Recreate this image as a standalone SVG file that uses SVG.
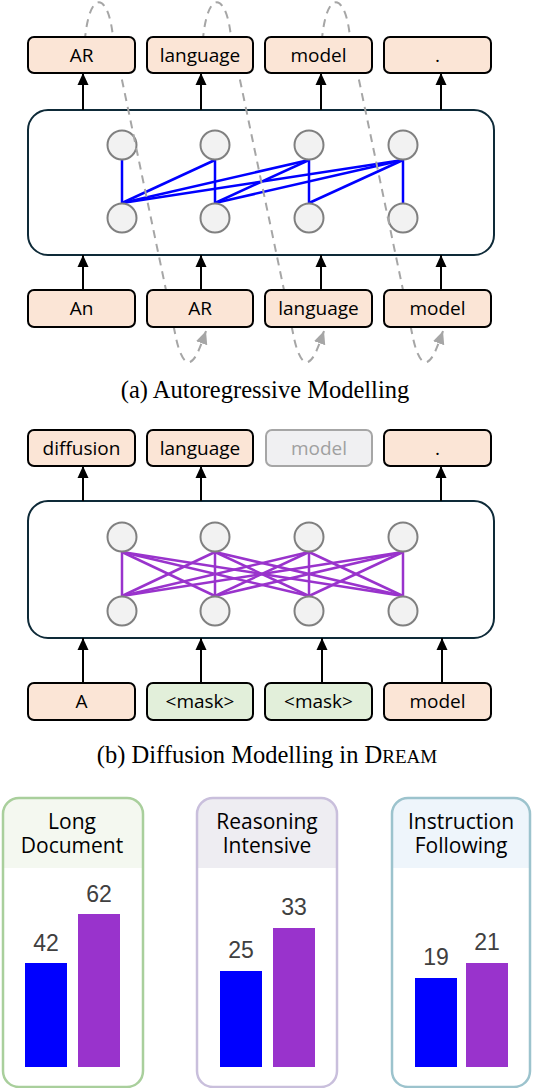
<svg xmlns="http://www.w3.org/2000/svg" width="534" height="1088" viewBox="0 0 534 1088">
<style>
.tok{stroke:#000;stroke-width:2;fill:#fbe5d6}
.msk{stroke:#000;stroke-width:2;fill:#e2efda}
.gry{stroke:#a6a6a6;stroke-width:2;fill:#f0f0f2}
.tt{font-family:"Open Sans",sans-serif;font-size:19px;fill:#000;text-anchor:middle}
.main{fill:#fff;stroke:#0e2a38;stroke-width:2}
.nd{fill:#f2f2f2;stroke:#808080;stroke-width:2}
.arr{stroke:#000;stroke-width:2;marker-end:url(#ah)}
.dash{fill:none;stroke:#a6a6a6;stroke-width:2;stroke-dasharray:8 6;marker-end:url(#gh)}
.be{stroke:#0000ff;stroke-width:2.5}
.pe{stroke:#9933cc;stroke-width:2.5}
.cap{font-family:"Liberation Serif",serif;font-size:24.5px;fill:#000;text-anchor:middle}
.ht{font-family:"Open Sans",sans-serif;font-size:21px;fill:#000;text-anchor:middle}
.nl{font-family:"Liberation Sans",sans-serif;font-size:23px;fill:#404040;text-anchor:middle}
.blue{fill:#0000ff}
.purp{fill:#9933cc}
</style>
<defs>
<marker id="ah" markerUnits="userSpaceOnUse" markerWidth="12" markerHeight="12" refX="12" refY="5.5" orient="auto" viewBox="0 0 12 11">
<path d="M0,0 L12,5.5 L0,11 z" fill="#000"/>
</marker>
<marker id="gh" markerUnits="userSpaceOnUse" markerWidth="13" markerHeight="12" refX="12" refY="5.5" orient="auto" viewBox="0 0 12 11">
<path d="M0,0 L12,5.5 L0,11 z" fill="#a6a6a6"/>
</marker>
<clipPath id="c1"><rect x="3" y="798" width="140" height="289" rx="16"/></clipPath>
<clipPath id="c2"><rect x="197" y="798" width="140" height="289" rx="16"/></clipPath>
<clipPath id="c3"><rect x="392" y="798" width="138" height="289" rx="16"/></clipPath>
</defs>

<!-- (a) Autoregressive -->
<g id="a-model">
<rect class="main" x="28" y="110" width="466" height="145" rx="20"/>
</g>
<g id="a-connectors">
<line class="arr" x1="83" y1="110" x2="83" y2="73"/>
<line class="arr" x1="201" y1="110" x2="201" y2="73"/>
<line class="arr" x1="321" y1="110" x2="321" y2="73"/>
<line class="arr" x1="441" y1="110" x2="441" y2="73"/>
<line class="arr" x1="83" y1="290" x2="83" y2="255"/>
<line class="arr" x1="201" y1="290" x2="201" y2="255"/>
<line class="arr" x1="321" y1="290" x2="321" y2="255"/>
<line class="arr" x1="441" y1="290" x2="441" y2="255"/>
<line class="be" x1="122" y1="160" x2="122" y2="203"/>
<line class="be" x1="215" y1="160" x2="122" y2="203"/>
<line class="be" x1="215" y1="160" x2="215" y2="203"/>
<line class="be" x1="309" y1="160" x2="122" y2="203"/>
<line class="be" x1="309" y1="160" x2="215" y2="203"/>
<line class="be" x1="309" y1="160" x2="309" y2="203"/>
<line class="be" x1="403" y1="160" x2="122" y2="203"/>
<line class="be" x1="403" y1="160" x2="215" y2="203"/>
<line class="be" x1="403" y1="160" x2="309" y2="203"/>
<line class="be" x1="403" y1="160" x2="403" y2="203"/>
</g>
<g id="a-nodes">
<circle class="nd" cx="122" cy="145" r="14.5"/>
<circle class="nd" cx="215" cy="145" r="14.5"/>
<circle class="nd" cx="309" cy="145" r="14.5"/>
<circle class="nd" cx="403" cy="145" r="14.5"/>
<circle class="nd" cx="122" cy="218" r="14.5"/>
<circle class="nd" cx="215" cy="218" r="14.5"/>
<circle class="nd" cx="309" cy="218" r="14.5"/>
<circle class="nd" cx="403" cy="218" r="14.5"/>
</g>
<g id="a-feedback">
<path class="dash" d="M84 55 C86 -12 108 -12 113 37 L175 333 C179 355 185 364 190 362 C196 360 201 345 206 331"/>
<path class="dash" transform="translate(118,0)" d="M84 55 C86 -12 108 -12 113 37 L175 333 C179 355 185 364 190 362 C196 360 201 345 206 331"/>
<path class="dash" transform="translate(237,0)" d="M84 55 C86 -12 108 -12 113 37 L175 333 C179 355 185 364 190 362 C196 360 201 345 206 331"/>
</g>
<g id="a-out-1"><rect class="tok" x="28" y="37" width="107" height="36" rx="6"/><text class="tt" x="81.5" y="62">AR</text></g>
<g id="a-out-2"><rect class="tok" x="147" y="37" width="106" height="36" rx="6"/><text class="tt" x="200" y="62">language</text></g>
<g id="a-out-3"><rect class="tok" x="265" y="37" width="107" height="36" rx="6"/><text class="tt" x="318.5" y="62">model</text></g>
<g id="a-out-4"><rect class="tok" x="384" y="37" width="107" height="36" rx="6"/><text class="tt" x="437.5" y="62">.</text></g>
<g id="a-in-1"><rect class="tok" x="28" y="290" width="107" height="37" rx="6"/><text class="tt" x="81.5" y="315">An</text></g>
<g id="a-in-2"><rect class="tok" x="147" y="290" width="106" height="37" rx="6"/><text class="tt" x="200" y="315">AR</text></g>
<g id="a-in-3"><rect class="tok" x="265" y="290" width="107" height="37" rx="6"/><text class="tt" x="318.5" y="315">language</text></g>
<g id="a-in-4"><rect class="tok" x="384" y="290" width="107" height="37" rx="6"/><text class="tt" x="437.5" y="315">model</text></g>
<text class="cap" x="265" y="398">(a) Autoregressive Modelling</text>

<!-- (b) Diffusion -->
<g id="b-model">
<rect class="main" x="28" y="501" width="466" height="137" rx="20"/>
</g>
<g id="b-connectors">
<line class="arr" x1="83" y1="501" x2="83" y2="466"/>
<line class="arr" x1="201" y1="501" x2="201" y2="466"/>
<line class="arr" x1="441" y1="501" x2="441" y2="466"/>
<line class="arr" x1="83" y1="683" x2="83" y2="638"/>
<line class="arr" x1="201" y1="683" x2="201" y2="638"/>
<line class="arr" x1="322" y1="683" x2="322" y2="638"/>
<line class="arr" x1="442" y1="683" x2="442" y2="638"/>
<line class="pe" x1="122" y1="552" x2="122" y2="596"/>
<line class="pe" x1="122" y1="552" x2="215" y2="596"/>
<line class="pe" x1="122" y1="552" x2="309" y2="596"/>
<line class="pe" x1="122" y1="552" x2="403" y2="596"/>
<line class="pe" x1="215" y1="552" x2="122" y2="596"/>
<line class="pe" x1="215" y1="552" x2="215" y2="596"/>
<line class="pe" x1="215" y1="552" x2="309" y2="596"/>
<line class="pe" x1="215" y1="552" x2="403" y2="596"/>
<line class="pe" x1="309" y1="552" x2="122" y2="596"/>
<line class="pe" x1="309" y1="552" x2="215" y2="596"/>
<line class="pe" x1="309" y1="552" x2="309" y2="596"/>
<line class="pe" x1="309" y1="552" x2="403" y2="596"/>
<line class="pe" x1="403" y1="552" x2="122" y2="596"/>
<line class="pe" x1="403" y1="552" x2="215" y2="596"/>
<line class="pe" x1="403" y1="552" x2="309" y2="596"/>
<line class="pe" x1="403" y1="552" x2="403" y2="596"/>
</g>
<g id="b-nodes">
<circle class="nd" cx="122" cy="537" r="14.5"/>
<circle class="nd" cx="215" cy="537" r="14.5"/>
<circle class="nd" cx="309" cy="537" r="14.5"/>
<circle class="nd" cx="403" cy="537" r="14.5"/>
<circle class="nd" cx="122" cy="611" r="14.5"/>
<circle class="nd" cx="215" cy="611" r="14.5"/>
<circle class="nd" cx="309" cy="611" r="14.5"/>
<circle class="nd" cx="403" cy="611" r="14.5"/>
</g>
<g id="b-out-1"><rect class="tok" x="28" y="430" width="107" height="36" rx="6"/><text class="tt" x="81.5" y="455">diffusion</text></g>
<g id="b-out-2"><rect class="tok" x="147" y="430" width="106" height="36" rx="6"/><text class="tt" x="200" y="455">language</text></g>
<g id="b-out-3"><rect class="gry" x="266" y="430" width="106" height="36" rx="6"/><text class="tt" x="319" y="455" style="fill:#a0a0a0">model</text></g>
<g id="b-out-4"><rect class="tok" x="384" y="430" width="107" height="36" rx="6"/><text class="tt" x="437.5" y="455">.</text></g>
<g id="b-in-1"><rect class="tok" x="28" y="683" width="107" height="37" rx="6"/><text class="tt" x="81.5" y="708">A</text></g>
<g id="b-in-2"><rect class="msk" x="147" y="683" width="106" height="37" rx="6"/><text class="tt" x="200" y="708">&lt;mask&gt;</text></g>
<g id="b-in-3"><rect class="msk" x="265" y="683" width="107" height="37" rx="6"/><text class="tt" x="318.5" y="708">&lt;mask&gt;</text></g>
<g id="b-in-4"><rect class="tok" x="384" y="683" width="107" height="37" rx="6"/><text class="tt" x="437.5" y="708">model</text></g>
<text class="cap" x="267" y="763">(b) Diffusion Modelling in D<tspan font-size="19">REAM</tspan></text>

<!-- Bar panels -->
<g id="panel-long">
<rect x="3" y="798" width="140" height="289" rx="16" fill="#fff"/>
<rect x="3" y="798" width="140" height="70" fill="#f4f8f0" clip-path="url(#c1)"/>
<rect x="3" y="798" width="140" height="289" rx="16" fill="none" stroke="#a9cf9c" stroke-width="2.5"/>
<text class="ht" x="72" y="829">Long</text>
<text class="ht" x="72" y="853">Document</text>
<rect class="blue" x="25" y="963" width="42" height="104"/>
<rect class="purp" x="78" y="914" width="42" height="153"/>
<text class="nl" x="46" y="951">42</text>
<text class="nl" x="99" y="902">62</text>
</g>
<g id="panel-reason">
<rect x="197" y="798" width="140" height="289" rx="16" fill="#fff"/>
<rect x="197" y="798" width="140" height="70" fill="#eeedf2" clip-path="url(#c2)"/>
<rect x="197" y="798" width="140" height="289" rx="16" fill="none" stroke="#c9bfdc" stroke-width="2.5"/>
<text class="ht" x="267" y="829">Reasoning</text>
<text class="ht" x="267" y="853">Intensive</text>
<rect class="blue" x="220" y="971" width="42" height="96"/>
<rect class="purp" x="273" y="928" width="42" height="139"/>
<text class="nl" x="241" y="958">25</text>
<text class="nl" x="294" y="915">33</text>
</g>
<g id="panel-instr">
<rect x="392" y="798" width="138" height="289" rx="16" fill="#fff"/>
<rect x="392" y="798" width="138" height="70" fill="#eef5fb" clip-path="url(#c3)"/>
<rect x="392" y="798" width="138" height="289" rx="16" fill="none" stroke="#9cc3cd" stroke-width="2.5"/>
<text class="ht" x="461" y="829">Instruction</text>
<text class="ht" x="461" y="853">Following</text>
<rect class="blue" x="415" y="978" width="42" height="89"/>
<rect class="purp" x="466" y="963" width="42" height="104"/>
<text class="nl" x="436" y="965">19</text>
<text class="nl" x="487" y="950">21</text>
</g>
</svg>
